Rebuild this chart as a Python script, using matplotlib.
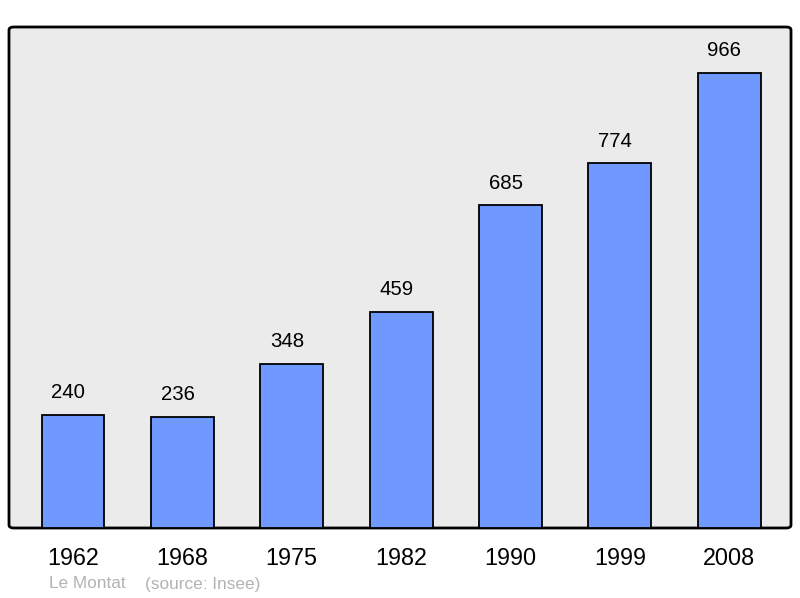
import matplotlib
matplotlib.use("Agg")
import matplotlib.pyplot as plt
from matplotlib.patches import FancyBboxPatch

years = ["1962", "1968", "1975", "1982", "1990", "1999", "2008"]
population = [240, 236, 348, 459, 685, 774, 966]

plt.rcParams['font.family'] = ['Liberation Sans', 'DejaVu Sans']

fig = plt.figure(figsize=(8, 5.98), dpi=100)
ax = fig.add_axes([9/800, 70/598, 782/800, 501/598])
ax.set_xlim(-0.585, 6.565)
ax.set_ylim(0, 966 * 1.1)
for s in ax.spines.values():
    s.set_visible(False)
ax.patch.set_visible(False)

bg = FancyBboxPatch((0, 0), 1, 1, boxstyle="round,pad=0,rounding_size=0.006",
                    transform=ax.transAxes, facecolor="#ebebeb", edgecolor="black",
                    linewidth=2, zorder=0, clip_on=False)
ax.add_patch(bg)

x = list(range(len(years)))
bars = ax.bar(x, population, width=0.575, color="#7099ff", edgecolor="black",
              linewidth=1.3, zorder=2)
for xi, v in zip(x, population):
    ax.annotate(str(v), (xi, v), xytext=(-3.5, 9), textcoords="offset points",
                ha="center", va="bottom", fontsize=14.7, color="black")

ax.set_xticks(x)
ax.set_xticklabels(years, fontsize=16.8)
ax.tick_params(axis="x", length=0, pad=13.5)
ax.set_yticks([])

fig.text(49/800, 1 - 584/598, "Le Montat", fontsize=12.4, color="#b3b3b3", va="center")
fig.text(145/800, 1 - 584/598, "(source: Insee)", fontsize=12.4, color="#b3b3b3", va="center")

fig.savefig("out.png", dpi=100)
